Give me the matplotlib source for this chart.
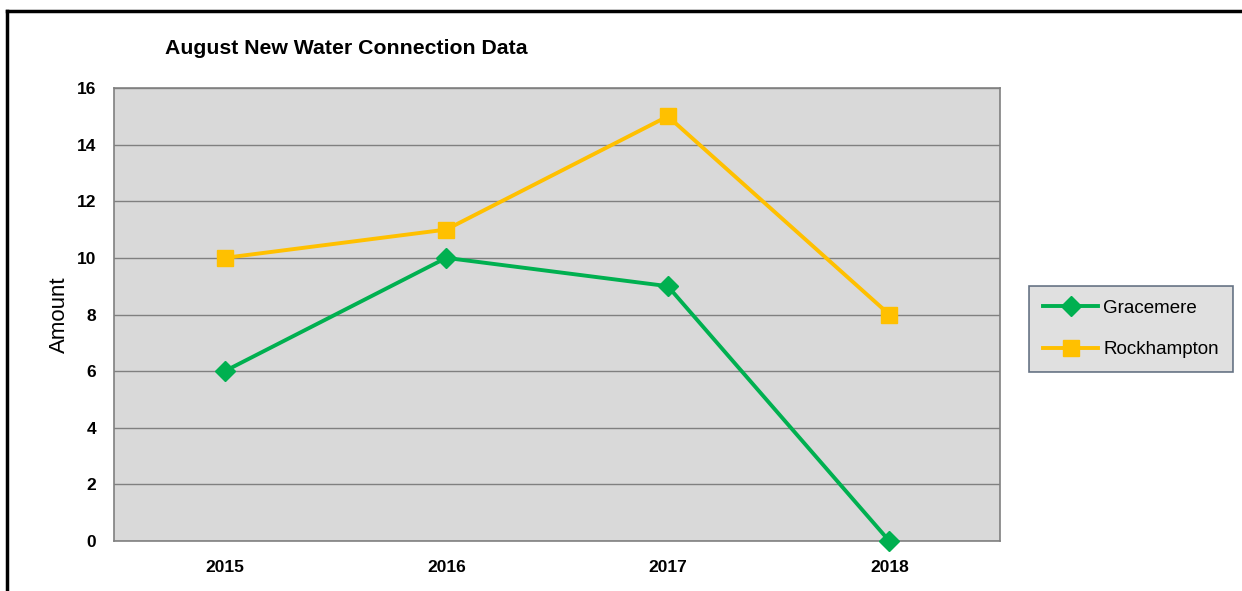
import numpy as np
import matplotlib.pyplot as plt
from matplotlib.lines import Line2D

years = ['2015', '2016', '2017', '2018']
gracemere = [6, 10, 9, 0]
rockhampton = [10, 11, 15, 8]

plt.rcParams['font.family'] = ['Liberation Sans', 'DejaVu Sans']

fig = plt.figure(figsize=(12.42, 5.91), dpi=100)
ax = fig.add_axes([0.0918, 0.0846, 0.7134, 0.7665])
ax.set_facecolor('#d9d9d9')

x = np.arange(len(years))
ax.plot(x, gracemere, color='#00b050', lw=2.8, marker='D', ms=10, label='Gracemere',
        zorder=3, clip_on=False)
ax.plot(x, rockhampton, color='#ffc000', lw=2.8, marker='s', ms=12, label='Rockhampton',
        zorder=3, clip_on=False)

ax.set_xlim(-0.5, 3.5)
ax.set_ylim(0, 16)
ax.set_yticks(range(0, 17, 2))
ax.set_xticks(x)
ax.set_xticklabels(years)
for lab in ax.get_xticklabels() + ax.get_yticklabels():
    lab.set_fontweight('bold')
    lab.set_fontsize(12.5)
ax.tick_params(length=0, pad=13)
ax.tick_params(axis='x', pad=14)

ax.yaxis.grid(True, color='#808080', lw=1)
ax.set_axisbelow(True)
for s in ax.spines.values():
    s.set_color('#808080')
    s.set_linewidth(1.2)

ax.set_ylabel('Amount', fontsize=16, labelpad=5)
fig.text(0.133, 0.918, 'August New Water Connection Data', fontsize=15.3, fontweight='bold', va='center')

leg = ax.legend(loc='center left', bbox_to_anchor=(1.033, 0.468), frameon=True, fancybox=False,
                fontsize=13.5, handlelength=2.9, borderpad=0.75, labelspacing=1.3, handletextpad=0.3,
                borderaxespad=0)
leg.get_frame().set_facecolor('#d9d9d9')
leg.get_frame().set_edgecolor('#44546a')
leg.get_frame().set_linewidth(1.2)

# outer frame: top and left edges only
fig.add_artist(Line2D([0.0056, 1.0], [0.9814, 0.9814], color='black', lw=2.5))
fig.add_artist(Line2D([0.0056, 0.0056], [0.0, 0.9814], color='black', lw=2.5))

fig.savefig('out.png', dpi=100)
